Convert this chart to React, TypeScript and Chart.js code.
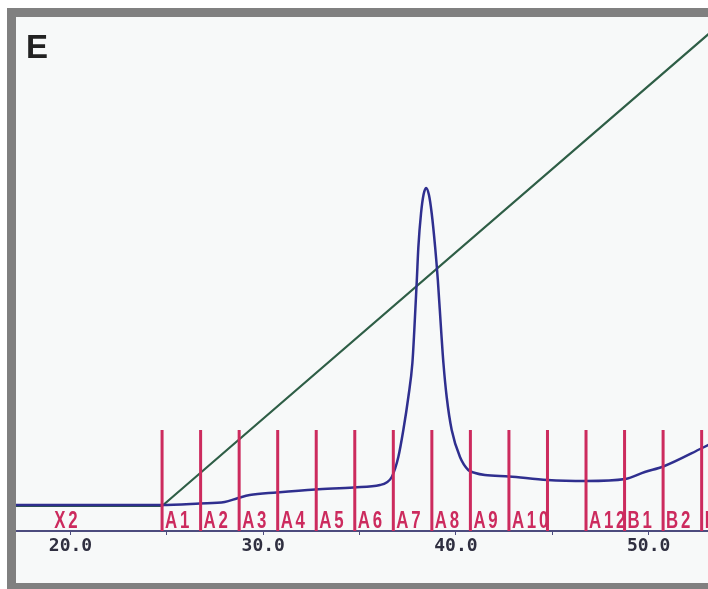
import React, { useEffect, useRef } from "react";
import { Chart, registerables } from "chart.js";

Chart.register(...registerables);

// Elution volume (mL) axis range and ticks
const X_MIN = 17.17;
const X_MAX = 53.08;
const Y_MIN = 0;
const Y_MAX = 102.8;
const TICK_STEP = 5;

// UV absorbance trace (x = mL, y = mAU)
const uvVolume = [17.0, 24.7, 26.7, 28.0, 28.7, 29.3, 30.7, 32.7, 34.7, 36.06, 36.4, 36.67, 37.01, 37.27, 37.53, 37.74, 37.84, 37.97, 38.05, 38.19, 38.32, 38.45, 38.6, 38.74, 38.92, 39.06, 39.23, 39.35, 39.52, 39.78, 40.21, 40.64, 41.0, 41.5, 42.76, 44.74, 46.76, 48.79, 49.8, 50.76, 52.78, 53.2];
const uvSignal = [5.2, 5.2, 5.5, 5.8, 6.6, 7.2, 7.7, 8.3, 8.7, 9.2, 9.7, 10.8, 14.8, 20.2, 26.8, 33.6, 40.2, 50.2, 56.8, 63.6, 67.3, 68.6, 67.2, 63.6, 56.8, 50.2, 40.2, 33.6, 26.8, 20.2, 14.8, 12.2, 11.6, 11.2, 10.9, 10.2, 10.0, 10.4, 11.8, 12.9, 16.6, 17.4];

// Gradient line
const gradVolume = [17.0, 24.75, 53.2];
const gradLevel = [5.0, 5.0, 99.7];

// Fraction boundaries (mL) and fraction marker height
const fractionBounds = [24.75, 26.75, 28.75, 30.75, 32.75, 34.75, 36.75, 38.75, 40.75, 42.75, 44.75, 46.75, 48.75, 50.75, 52.75];
const FRACTION_MARK_TOP = 20.2;

// Fraction labels and their starting volumes
const fractionLabels = ["X2", "A1", "A2", "A3", "A4", "A5", "A6", "A7", "A8", "A9", "A10", "", "A12", "B1", "B2", "B3"];
const fractionLabelStart = [19.0, 24.75, 26.75, 28.75, 30.75, 32.75, 34.75, 36.75, 38.75, 40.75, 42.75, 44.75, 46.75, 48.75, 50.75, 52.75];

const PANEL_LETTER = "E";

const RED = "#cc2b5e";
const BLUE = "#2f2f8f";
const GREEN = "#2e5e46";
const AXIS = "#4c4c7e";
const TICK_TEXT = "#2f2f40";

export default function App() {
  const canvasRef = useRef<HTMLCanvasElement | null>(null);

  useEffect(() => {
    const canvas = canvasRef.current;
    if (!canvas) return;

    const fractionData: { x: number; y: number | null }[] = [];
    fractionBounds.forEach((b) => {
      fractionData.push({ x: b, y: Y_MIN });
      fractionData.push({ x: b, y: FRACTION_MARK_TOP });
      fractionData.push({ x: b, y: null });
    });

    const labelPlugin = {
      id: "fractionLabels",
      afterDatasetsDraw(chart: any) {
        const ctx = chart.ctx as CanvasRenderingContext2D;
        const xs = chart.scales.x;
        const ys = chart.scales.y;
        const area = chart.chartArea;
        ctx.save();
        ctx.beginPath();
        ctx.rect(area.left, area.top, area.right - area.left, area.bottom - area.top);
        ctx.clip();
        ctx.fillStyle = RED;
        ctx.font = 'bold 24px "Liberation Sans", Arial, sans-serif';
        (ctx as any).letterSpacing = "4px";
        ctx.textBaseline = "alphabetic";
        ctx.textAlign = "left";
        fractionLabels.forEach((t, i) => {
          if (!t) return;
          const px = xs.getPixelForValue(fractionLabelStart[i]);
          const py = ys.getPixelForValue(Y_MIN);
          ctx.save();
          ctx.translate(px + 3, py - 3);
          ctx.scale(0.7, 1);
          ctx.fillText(t, 0, 0);
          ctx.restore();
        });
        ctx.restore();
      },
    };

    const chart = new Chart(canvas, {
      type: "line",
      data: {
        datasets: [
          {
            label: "Fractions",
            data: fractionData as any,
            borderColor: RED,
            borderWidth: 3,
            pointRadius: 0,
            spanGaps: false,
            fill: false,
          },
          {
            label: "UV",
            data: uvVolume.map((x, i) => ({ x, y: uvSignal[i] })),
            borderColor: BLUE,
            borderWidth: 2.5,
            pointRadius: 0,
            cubicInterpolationMode: "monotone",
            fill: false,
          },
          {
            label: "Gradient",
            data: gradVolume.map((x, i) => ({ x, y: gradLevel[i] })),
            borderColor: GREEN,
            borderWidth: 2.2,
            pointRadius: 0,
            tension: 0,
            fill: false,
          },
        ],
      },
      options: {
        animation: false,
        responsive: false,
        maintainAspectRatio: false,
        layout: { padding: 0 },
        plugins: {
          legend: { display: false },
          tooltip: { enabled: false },
          title: { display: false },
        },
        scales: {
          x: {
            type: "linear",
            min: X_MIN,
            max: X_MAX,
            afterBuildTicks(scale: any) {
              scale.ticks = scale.ticks.filter(
                (t: any) => Math.abs(t.value / TICK_STEP - Math.round(t.value / TICK_STEP)) < 1e-6
              );
            },
            afterFit(scale: any) {
              scale.height = 52;
            },
            ticks: {
              stepSize: TICK_STEP,
              includeBounds: false,
              autoSkip: false,
              maxRotation: 0,
              padding: 1,
              color: TICK_TEXT,
              font: { family: '"DejaVu Sans Mono", monospace', size: 18, weight: "bold" },
              callback: (v: any) => (Math.abs(v % 10) < 1e-6 ? Number(v).toFixed(1) : ""),
            },
            grid: {
              display: true,
              drawOnChartArea: false,
              drawTicks: true,
              tickLength: 4,
              color: AXIS,
            },
            border: { display: true, color: AXIS, width: 2 },
          },
          y: {
            type: "linear",
            display: false,
            min: Y_MIN,
            max: Y_MAX,
          },
        },
      } as any,
      plugins: [labelPlugin],
    });

    return () => chart.destroy();
  }, []);

  return (
    <div
      style={{
        position: "absolute",
        left: 7,
        top: 8,
        width: 692,
        height: 566,
        borderLeft: "9px solid #808080",
        borderTop: "9px solid #808080",
        borderBottom: "6px solid #808080",
        background: "#f7f9f9",
      }}
    >
      <canvas ref={canvasRef} width={692} height={566} style={{ display: "block" }} />
      <div
        style={{
          position: "absolute",
          left: 10,
          top: 11,
          fontFamily: '"Liberation Sans", Arial, sans-serif',
          fontWeight: "bold",
          fontSize: 33,
          lineHeight: "normal",
          color: "#222222",
        }}
      >
        {PANEL_LETTER}
      </div>
    </div>
  );
}
